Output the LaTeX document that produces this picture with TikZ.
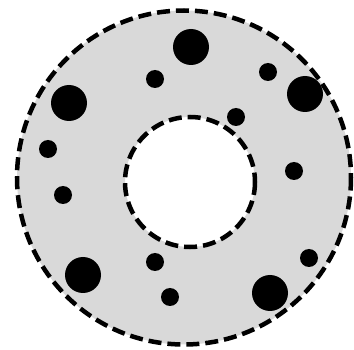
\documentclass[tikz,border=0pt]{standalone}
\usepackage{tikz}

\definecolor{ringgray}{RGB}{217,217,217}

\begin{document}
\begin{tikzpicture}[x=1pt, y=-1pt, thick]
	\tikzset{
		rim/.style={line width=4.5pt, dash pattern=on 13pt off 6pt, black},
		bigdot/.style={fill=black},
	}
	\useasboundingbox (0,0) rectangle (354,350);

	% ==================== ring ====================
	\fill[ringgray, even odd rule] (184,177.5) circle (167) (190,182) circle (65);
	\draw[rim] (184,177.5) circle (167);
	\draw[rim] (190,182) circle (65);

	% ==================== large dots ====================
	\foreach \px/\py in {191/47, 69/103, 305/94, 83/275, 270/293}
		\fill[bigdot] (\px,\py) circle (18);

	% ==================== small dots ====================
	\foreach \px/\py in {155/79, 268/72, 236/117, 48/149, 294/171, 63/195, 155/262, 309/258, 170/297}
		\fill[bigdot] (\px,\py) circle (9);
\end{tikzpicture}
\end{document}
